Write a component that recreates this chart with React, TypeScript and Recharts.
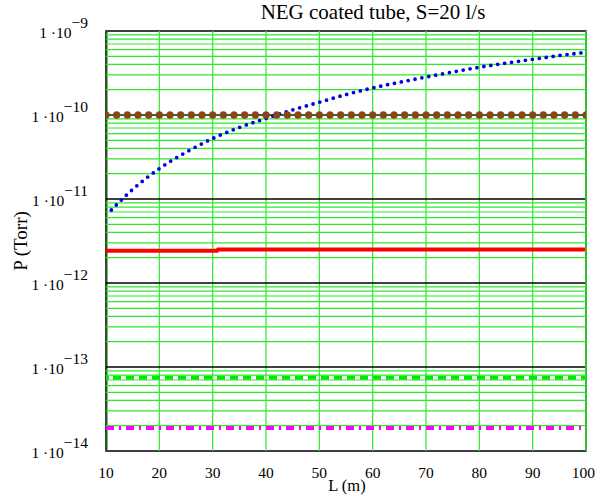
import React from "react";
import { LineChart, Line, XAxis, YAxis, ReferenceLine } from "recharts";

const xTicks = [10, 20, 30, 40, 50, 60, 70, 80, 90, 100];
const yTicks = [1e-14, 1e-13, 1e-12, 1e-11, 1e-10, 1e-9];
const yTickExp = ["−14", "−13", "−12", "−11", "−10", "−9"];
const decadeLines = [1e-13, 1e-12, 1e-11, 1e-10];
const minorLines = [
  2e-14, 3e-14, 4e-14, 5e-14, 6e-14, 7e-14, 8e-14, 9e-14,
  2e-13, 3e-13, 4e-13, 5e-13, 6e-13, 7e-13, 8e-13, 9e-13,
  2e-12, 3e-12, 4e-12, 5e-12, 6e-12, 7e-12, 8e-12, 9e-12,
  2e-11, 3e-11, 4e-11, 5e-11, 6e-11, 7e-11, 8e-11, 9e-11,
  2e-10, 3e-10, 4e-10, 5e-10, 6e-10, 7e-10, 8e-10, 9e-10,
];
const verticalLines = [20, 30, 40, 50, 60, 70, 80, 90];

// blue dotted curve
const blueL = [11, 15, 20, 25, 30, 35, 40, 45, 50, 55, 60, 65, 70, 75, 80, 85, 90, 95, 100];
const blueP = [
  7.4e-12, 1.3e-11, 2.3e-11, 3.6e-11, 5.25e-11, 7.1e-11, 9.1e-11, 1.15e-10, 1.42e-10,
  1.75e-10, 2.1e-10, 2.45e-10, 2.83e-10, 3.25e-10, 3.7e-10, 4.15e-10, 4.6e-10, 5.1e-10, 5.57e-10,
];

// brown line with dots
const brownL = [
  10, 12, 14, 16, 18, 20, 22, 24, 26, 28, 30, 32, 34, 36, 38, 40, 42, 44, 46, 48, 50, 52, 54,
  56, 58, 60, 62, 64, 66, 68, 70, 72, 74, 76, 78, 80, 82, 84, 86, 88, 90, 92, 94, 96, 98, 100,
];
const brownValue = 1e-10;

// red step line
const redL = [10, 30.8, 31, 100];
const redP = [2.42e-12, 2.42e-12, 2.5e-12, 2.5e-12];

// green dashed and magenta dash-dot
const flatL = [10, 100];
const greenP = [7.45e-14, 7.45e-14];
const magentaP = [1.88e-14, 1.88e-14];

const blueData = blueL.map((L, i) => ({ L, P: blueP[i] }));
const brownData = brownL.map((L) => ({ L, P: brownValue }));
const redData = redL.map((L, i) => ({ L, P: redP[i] }));
const greenData = flatL.map((L, i) => ({ L, P: greenP[i] }));
const magentaData = flatL.map((L, i) => ({ L, P: magentaP[i] }));

const FONT = "'Liberation Serif', 'DejaVu Serif', serif";

const YTick = (props: any) => {
  const { y, payload, index } = props;
  const idx = yTicks.indexOf(payload.value);
  const exp = yTickExp[idx >= 0 ? idx : index];
  return (
    <text x={88} y={y + 7} textAnchor="end" fontFamily={FONT} fontSize={15.5} fill="#000">
      <tspan>1 ·10</tspan>
      <tspan dy={-10}>{exp}</tspan>
    </text>
  );
};

const XTick = (props: any) => {
  const { x, payload } = props;
  const isLast = payload.value === xTicks[xTicks.length - 1];
  return (
    <text
      x={isLast ? 595 : x}
      y={478}
      textAnchor={isLast ? "end" : "middle"}
      fontFamily={FONT}
      fontSize={15.5}
      fill="#000"
    >
      {payload.value}
    </text>
  );
};

export default function App() {
  return (
    <div style={{ position: "absolute", left: 0, top: 0, width: 596, height: 497, background: "#fff" }}>
      <LineChart
        width={596}
        height={497}
        margin={{ top: 31, right: 10, bottom: 16, left: 10 }}
      >
        <XAxis
          type="number"
          dataKey="L"
          domain={[10, 100]}
          ticks={xTicks}
          allowDataOverflow
          axisLine={false}
          tickLine={false}
          height={30}
          tick={<XTick />}
          interval={0}
        />
        <YAxis
          type="number"
          dataKey="P"
          scale="log"
          domain={[1e-14, 1e-9]}
          ticks={yTicks}
          allowDataOverflow
          axisLine={false}
          tickLine={false}
          width={96}
          tick={<YTick />}
          interval={0}
        />
        {minorLines.map((v) => (
          <ReferenceLine key={"m" + v} y={v} stroke="#2ee82e" strokeWidth={1.2} />
        ))}
        {verticalLines.map((v) => (
          <ReferenceLine key={"v" + v} x={v} stroke="#2ee82e" strokeWidth={1.2} />
        ))}
        {decadeLines.map((v) => (
          <ReferenceLine key={"d" + v} y={v} stroke="#000" strokeWidth={1.3} />
        ))}
        <Line
          data={magentaData}
          dataKey="P"
          stroke="#ff00ff"
          strokeWidth={4}
          strokeDasharray="8 5 2 5"
          dot={false}
          isAnimationActive={false}
        />
        <Line
          data={greenData}
          dataKey="P"
          stroke="#00e800"
          strokeWidth={4}
          strokeDasharray="3 4 8 5 8 5 8 5 8 5 8 5 8 5 8 5 8 5 8 5 8 5 8 5 8 5 8 5 8 5 8 5 8 5 8 5 8 5 8 5 8 5 8 5 8 5 8 5 8 5 8 5 8 5 8 5 8 5 8 5 8 5 8 5 8 5 8 5 8 5 8 5 8 5 8 5 8 5 8 5"
          dot={false}
          isAnimationActive={false}
        />
        <Line
          data={redData}
          dataKey="P"
          stroke="#ff0000"
          strokeWidth={4}
          dot={false}
          isAnimationActive={false}
        />
        <Line
          data={brownData}
          dataKey="P"
          stroke="#555555"
          strokeWidth={1.5}
          dot={{ r: 3.5, fill: "#8b4513", stroke: "#8b4513", strokeWidth: 0.5 }}
          isAnimationActive={false}
        />
        <Line
          data={blueData}
          dataKey="P"
          type="monotone"
          stroke="#0000ee"
          strokeWidth={3.8}
          strokeDasharray="0 7"
          strokeLinecap="round"
          dot={false}
          isAnimationActive={false}
        />
        <ReferenceLine x={100} stroke="#2ee82e" strokeWidth={1.5} />
        <rect x={106} y={31} width={480} height={420} fill="none" stroke="#000" strokeWidth={1.5} />
        <line x1={106.5} y1={31} x2={106.5} y2={451} stroke="#1a5a1a" strokeWidth={2} />
      </LineChart>
      <div
        style={{
          position: "absolute",
          left: 0,
          width: 746,
          top: 0,
          textAlign: "center",
          fontFamily: FONT,
          fontSize: 21,
          lineHeight: "24px",
          color: "#000",
          whiteSpace: "nowrap",
        }}
      >
        NEG coated tube, S=20 l/s
      </div>
      <div
        style={{
          position: "absolute",
          left: 297,
          width: 100,
          top: 476,
          textAlign: "center",
          fontFamily: FONT,
          fontSize: 16.5,
          lineHeight: "20px",
          color: "#000",
        }}
      >
        L (m)
      </div>
      <div
        style={{
          position: "absolute",
          left: -29,
          top: 229,
          width: 100,
          textAlign: "center",
          fontFamily: FONT,
          fontSize: 19,
          lineHeight: "24px",
          color: "#000",
          transform: "rotate(-90deg)",
          whiteSpace: "nowrap",
        }}
      >
        P (Torr)
      </div>
    </div>
  );
}
